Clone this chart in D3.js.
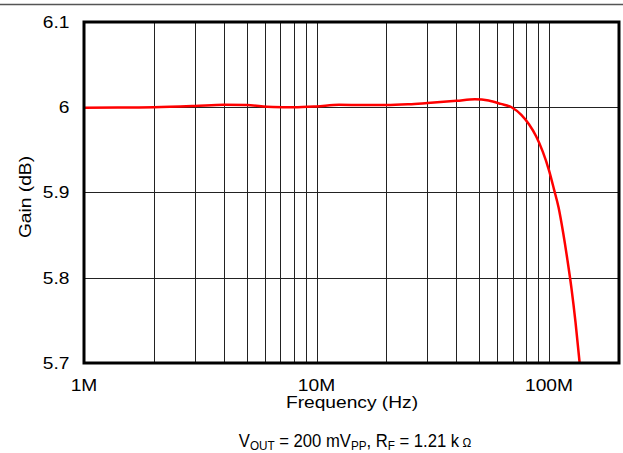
<!DOCTYPE html>
<html>
<head>
<meta charset="utf-8">
<script src="https://cdn.jsdelivr.net/npm/d3@7"></script>
<style>
  body { margin: 0; background: #fff; }
  svg text { font-family: "Liberation Sans", Arial, sans-serif; fill: #000; }
</style>
</head>
<body>
<div id="chart"></div>
<script>
// Frequency in Hz, gain in dB
const freqHz = [1e6, 1.4e6, 2e6, 3e6, 4e6, 5e6, 6.5e6, 8e6, 10e6, 12.5e6, 16e6, 20e6, 25e6, 30e6,
  40e6, 48e6, 55e6, 62e6, 69e6, 76e6, 82e6, 88e6, 94e6, 100e6, 105e6, 110e6, 115e6, 120e6, 125e6, 130e6, 135e6, 137e6];
const gainDb = [5.9995, 5.9997, 6.0, 6.0015, 6.003, 6.0025, 6.0003, 6.0, 6.001, 6.0028, 6.0025, 6.0025, 6.0035, 6.005,
  6.0075, 6.0093, 6.0078, 6.004, 6.0, 5.991, 5.98, 5.966, 5.948, 5.926, 5.904, 5.882, 5.853, 5.821, 5.787, 5.748, 5.704, 5.685];

const yTicks = [5.7, 5.8, 5.9, 6.0, 6.1];
const yTickLabels = ["5.7", "5.8", "5.9", "6", "6.1"];
const xTicks = [1e6, 1e7, 1e8];
const xTickLabels = ["1M", "10M", "100M"];

const width = 623, height = 453;
const margin = { top: 22, right: 4, bottom: 90, left: 84 };
const stretch = 1.2; // glyphs in the reference are wider than Liberation Sans

const svg = d3.select("#chart").append("svg")
  .attr("width", width)
  .attr("height", height);

const x = d3.scaleLog()
  .domain([1e6, 2e8])
  .range([margin.left, width - margin.right]);

const y = d3.scaleLinear()
  .domain([5.7, 6.1])
  .range([height - margin.bottom, margin.top]);

// top rule across the page
svg.append("line")
  .attr("x1", 0).attr("x2", width)
  .attr("y1", 4.5).attr("y2", 4.5)
  .attr("stroke", "#555").attr("stroke-width", 1.5);

// vertical grid (minor decades)
const gridX = [];
[1e6, 1e7, 1e8].forEach(dec => {
  for (let k = 1; k <= 9; k++) {
    const f = dec * k;
    if (f > 1e6 && f < 2e8) gridX.push(f);
  }
});

svg.append("g")
  .selectAll("line")
  .data(gridX)
  .enter().append("line")
  .attr("x1", d => Math.round(x(d)) + 0.5)
  .attr("x2", d => Math.round(x(d)) + 0.5)
  .attr("y1", y(6.1))
  .attr("y2", y(5.7))
  .attr("stroke", "#222")
  .attr("stroke-width", 1);

// horizontal grid
svg.append("g")
  .selectAll("line")
  .data(yTicks.slice(1, -1))
  .enter().append("line")
  .attr("x1", x(1e6))
  .attr("x2", x(2e8))
  .attr("y1", d => Math.round(y(d)) + 0.5)
  .attr("y2", d => Math.round(y(d)) + 0.5)
  .attr("stroke", "#222")
  .attr("stroke-width", 1);

// clip for the curve
svg.append("clipPath").attr("id", "plot-clip")
  .append("rect")
  .attr("x", x(1e6)).attr("y", y(6.1))
  .attr("width", x(2e8) - x(1e6))
  .attr("height", y(5.7) - y(6.1));

const line = d3.line()
  .x((d, i) => x(freqHz[i]))
  .y(d => y(d))
  .curve(d3.curveMonotoneX);

svg.append("path")
  .datum(gainDb)
  .attr("clip-path", "url(#plot-clip)")
  .attr("fill", "none")
  .attr("stroke", "#ff0000")
  .attr("stroke-width", 2.5)
  .attr("d", line);

// frame
svg.append("rect")
  .attr("x", x(1e6)).attr("y", y(6.1))
  .attr("width", x(2e8) - x(1e6))
  .attr("height", y(5.7) - y(6.1))
  .attr("fill", "none")
  .attr("stroke", "#000")
  .attr("stroke-width", 3);

// y tick labels
svg.append("g")
  .selectAll("text")
  .data(yTicks)
  .enter().append("text")
  .attr("transform", d => `translate(69.5, ${y(d)}) scale(${stretch}, 1)`)
  .attr("dy", "0.36em")
  .attr("text-anchor", "end")
  .style("font-size", "16px")
  .text((d, i) => yTickLabels[i]);

// x tick labels
svg.append("g")
  .selectAll("text")
  .data(xTicks)
  .enter().append("text")
  .attr("transform", d => `translate(${x(d)}, 391) scale(${stretch}, 1)`)
  .attr("text-anchor", "middle")
  .style("font-size", "16px")
  .text((d, i) => xTickLabels[i]);

// axis titles
svg.append("text")
  .attr("transform", `translate(352, 408) scale(${stretch}, 1)`)
  .attr("text-anchor", "middle")
  .style("font-size", "16px")
  .text("Frequency (Hz)");

svg.append("text")
  .attr("transform", `translate(31, 197) rotate(-90) scale(${stretch}, 1)`)
  .attr("text-anchor", "middle")
  .style("font-size", "16px")
  .text("Gain (dB)");

// condition note
const note = svg.append("text")
  .attr("transform", "translate(355, 447) scale(0.9, 1)")
  .attr("text-anchor", "middle")
  .style("font-size", "18.5px");
note.append("tspan").text("V");
note.append("tspan").attr("dy", 3).style("font-size", "13px").text("OUT");
note.append("tspan").attr("dy", -3).text(" = 200 mV");
note.append("tspan").attr("dy", 3).style("font-size", "13px").text("PP");
note.append("tspan").attr("dy", -3).text(", R");
note.append("tspan").attr("dy", 3).style("font-size", "13px").text("F");
note.append("tspan").attr("dy", -3).text(" = 1.21 k");
note.append("tspan").style("font-size", "13px").text(" \u03A9");
</script>
</body>
</html>
